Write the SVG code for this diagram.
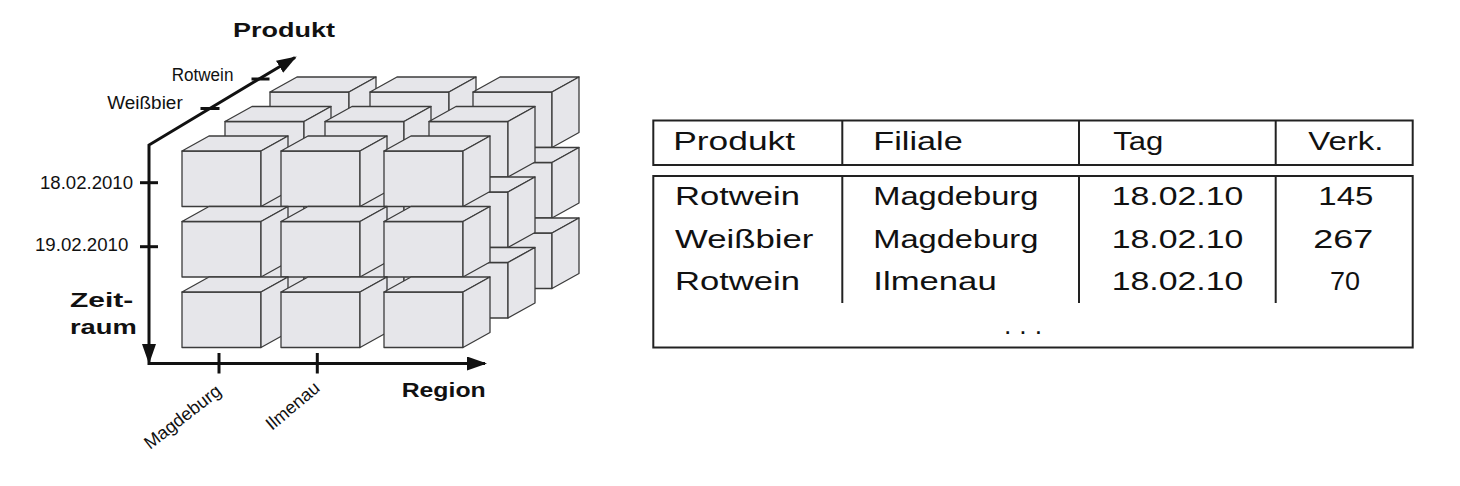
<svg xmlns="http://www.w3.org/2000/svg" width="1460" height="486" viewBox="0 0 1460 486">
<style>
.face{fill:#e6e6ea;stroke:#3c3c3c;stroke-width:1.3;stroke-linejoin:round}
.ax{fill:none;stroke:#111;stroke-width:3}
.tick{stroke:#111;stroke-width:3}
.lbl{font-family:"Liberation Sans",Arial,sans-serif;fill:#111;font-size:17.5px}
.rot{font-family:"Liberation Sans",Arial,sans-serif;fill:#111;font-size:18px}
.bold{font-family:"Liberation Sans",Arial,sans-serif;fill:#111;font-size:20px;font-weight:bold}
.tbl{fill:none;stroke:#222;stroke-width:2}
.tt{font-family:"Liberation Sans",Arial,sans-serif;fill:#111;font-size:26.5px}
</style>
<defs>
<g id="cube">
<rect class="face" x="0" y="0" width="79" height="55.5"/>
<polygon class="face" points="0,0 27,-15 106,-15 79,0"/>
<polygon class="face" points="79,0 106,-15 106,40.5 79,55.5"/>
</g>
<marker id="arr" markerUnits="userSpaceOnUse" markerWidth="20" markerHeight="14" viewBox="0 0 20 14" refX="18" refY="7" orient="auto-start-reverse">
<path d="M0,0 L20,7 L0,14 z" fill="#111"/>
</marker>
</defs>
<rect width="1460" height="486" fill="#fff"/>

<g id="cube-back">
<use href="#cube" x="270" y="92"/><use href="#cube" x="370" y="92"/><use href="#cube" x="473" y="92"/>
<use href="#cube" x="270" y="162.5"/><use href="#cube" x="370" y="162.5"/><use href="#cube" x="473" y="162.5"/>
<use href="#cube" x="270" y="233"/><use href="#cube" x="370" y="233"/><use href="#cube" x="473" y="233"/>
</g>
<g id="cube-middle">
<use href="#cube" x="225" y="121.5"/><use href="#cube" x="325" y="121.5"/><use href="#cube" x="429" y="121.5"/>
<use href="#cube" x="225" y="192"/><use href="#cube" x="325" y="192"/><use href="#cube" x="429" y="192"/>
<use href="#cube" x="225" y="262.5"/><use href="#cube" x="325" y="262.5"/><use href="#cube" x="429" y="262.5"/>
</g>
<g id="cube-front">
<use href="#cube" x="182" y="151"/><use href="#cube" x="281" y="151"/><use href="#cube" x="384" y="151"/>
<use href="#cube" x="182" y="221.5"/><use href="#cube" x="281" y="221.5"/><use href="#cube" x="384" y="221.5"/>
<use href="#cube" x="182" y="292"/><use href="#cube" x="281" y="292"/><use href="#cube" x="384" y="292"/>
</g>

<g id="axes">
<path class="ax" d="M149,362 L149,145 L295,57.5" marker-start="url(#arr)" marker-end="url(#arr)" stroke-linejoin="miter"/>
<path class="ax" d="M147.5,363.5 L485,363.5" marker-end="url(#arr)"/>
<line class="tick" x1="140" y1="182.7" x2="158" y2="182.7"/>
<line class="tick" x1="140" y1="246.7" x2="158" y2="246.7"/>
<line class="tick" x1="200.5" y1="108.5" x2="219.5" y2="108.5"/>
<line class="tick" x1="251.5" y1="79" x2="269.5" y2="79"/>
<line class="tick" x1="219" y1="353" x2="219" y2="373.5"/>
<line class="tick" x1="317.3" y1="353" x2="317.3" y2="373.5"/>
</g>

<g id="axis-labels">
<text class="bold" x="233" y="37.3" textLength="102" lengthAdjust="spacingAndGlyphs">Produkt</text>
<text class="bold" x="401.7" y="396.7" textLength="84" lengthAdjust="spacingAndGlyphs">Region</text>
<text class="bold" x="70" y="306.7" textLength="63.3" lengthAdjust="spacingAndGlyphs">Zeit-</text>
<text class="bold" x="70" y="334.3" textLength="66.7" lengthAdjust="spacingAndGlyphs">raum</text>
<text class="lbl" x="40" y="189.3" textLength="93" lengthAdjust="spacingAndGlyphs">18.02.2010</text>
<text class="lbl" x="35" y="250.5" textLength="93.3" lengthAdjust="spacingAndGlyphs">19.02.2010</text>
<text class="lbl" x="171.7" y="81" textLength="61.7" lengthAdjust="spacingAndGlyphs">Rotwein</text>
<text class="lbl" x="107.3" y="109.3" textLength="75.4" lengthAdjust="spacingAndGlyphs">Weißbier</text>
<text class="rot" transform="translate(150,450) rotate(-38)" textLength="92" lengthAdjust="spacingAndGlyphs">Magdeburg</text>
<text class="rot" transform="translate(272,431) rotate(-40)" textLength="64" lengthAdjust="spacingAndGlyphs">Ilmenau</text>
</g>

<g id="table">
<rect class="tbl" x="653.3" y="120.5" width="759.4" height="44.5"/>
<rect class="tbl" x="653.3" y="176" width="759.4" height="171.5"/>
<line class="tbl" x1="842.3" y1="120.5" x2="842.3" y2="165"/>
<line class="tbl" x1="1079" y1="120.5" x2="1079" y2="165"/>
<line class="tbl" x1="1275.7" y1="120.5" x2="1275.7" y2="165"/>
<line class="tbl" x1="842.3" y1="176" x2="842.3" y2="303"/>
<line class="tbl" x1="1079" y1="176" x2="1079" y2="303"/>
<line class="tbl" x1="1275.7" y1="176" x2="1275.7" y2="303"/>

<text class="tt" x="673.3" y="150" textLength="121.7" lengthAdjust="spacingAndGlyphs">Produkt</text>
<text class="tt" x="873.3" y="150" textLength="89.4" lengthAdjust="spacingAndGlyphs">Filiale</text>
<text class="tt" x="1113.3" y="150" textLength="50" lengthAdjust="spacingAndGlyphs">Tag</text>
<text class="tt" x="1308.3" y="150" textLength="75" lengthAdjust="spacingAndGlyphs">Verk.</text>

<text class="tt" x="675" y="205.3" textLength="125" lengthAdjust="spacingAndGlyphs">Rotwein</text>
<text class="tt" x="873.3" y="205.3" textLength="165" lengthAdjust="spacingAndGlyphs">Magdeburg</text>
<text class="tt" x="1111.7" y="205.3" textLength="131.6" lengthAdjust="spacingAndGlyphs">18.02.10</text>
<text class="tt" x="1318.3" y="205.3" textLength="55" lengthAdjust="spacingAndGlyphs">145</text>

<text class="tt" x="675" y="247.7" textLength="138.3" lengthAdjust="spacingAndGlyphs">Weißbier</text>
<text class="tt" x="873.3" y="247.7" textLength="165" lengthAdjust="spacingAndGlyphs">Magdeburg</text>
<text class="tt" x="1111.7" y="247.7" textLength="131.6" lengthAdjust="spacingAndGlyphs">18.02.10</text>
<text class="tt" x="1313.3" y="247.7" textLength="60" lengthAdjust="spacingAndGlyphs">267</text>

<text class="tt" x="675" y="290" textLength="125" lengthAdjust="spacingAndGlyphs">Rotwein</text>
<text class="tt" x="873.3" y="290" textLength="123.4" lengthAdjust="spacingAndGlyphs">Ilmenau</text>
<text class="tt" x="1111.7" y="290" textLength="131.6" lengthAdjust="spacingAndGlyphs">18.02.10</text>
<text class="tt" x="1330" y="290" textLength="30" lengthAdjust="spacingAndGlyphs">70</text>

<text class="tt" x="1004" y="333.5" textLength="38" lengthAdjust="spacing">. . .</text>
</g>
</svg>
